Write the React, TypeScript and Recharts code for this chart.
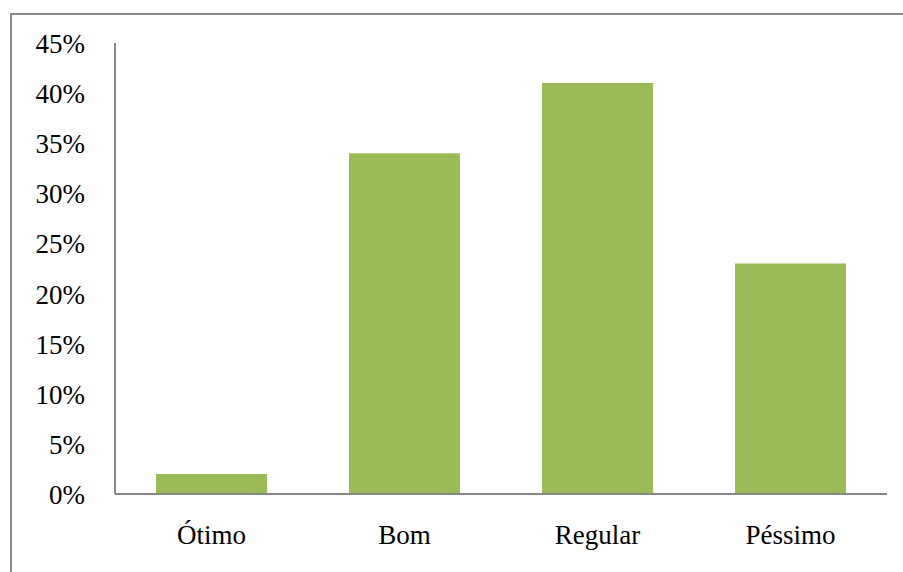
import { Bar, BarChart, XAxis, YAxis } from "recharts";

const categories = ["Ótimo", "Bom", "Regular", "Péssimo"];
const percentages = [2, 34, 41, 23];
const yTicks = [0, 5, 10, 15, 20, 25, 30, 35, 40, 45];

const data = categories.map((name, i) => ({ name, value: percentages[i] }));

const axisColor = "#878787";
const barColor = "#9BBB59";
const font = "Liberation Serif, serif";

const XTick = ({ x, y, payload }: any) => (
  <text
    x={x}
    y={y + 48}
    textAnchor="middle"
    style={{ fontFamily: font, fontSize: 27, fill: "#000" }}
  >
    {payload.value}
  </text>
);

const YTick = ({ x, y, payload }: any) => (
  <text
    x={x - 28}
    y={y + 10}
    textAnchor="end"
    style={{ fontFamily: font, fontSize: 27, fill: "#000" }}
  >
    {payload.value}%
  </text>
);

const App = () => {
  return (
    <div
      style={{
        position: "fixed",
        left: 0,
        top: 0,
        width: 903,
        height: 572,
        background: "#fff",
        overflow: "hidden",
        fontFamily: font,
      }}
    >
      {/* outer frame, runs off the right and bottom edges */}
      <div
        style={{
          position: "absolute",
          left: 10,
          top: 13,
          width: 920,
          height: 600,
          border: "2px solid #8a8a8a",
        }}
      />
      <div style={{ position: "absolute", left: 0, top: 0 }}>
        <BarChart
          width={903}
          height={572}
          data={data}
          margin={{ top: 43, right: 16, bottom: 48, left: 15 }}
          barCategoryGap={41}
        >
          <XAxis
            dataKey="name"
            axisLine={{ stroke: axisColor, strokeWidth: 2 }}
            tickLine={false}
            tickSize={0}
            tick={<XTick />}
          />
          <YAxis
            width={100}
            domain={[0, 45]}
            ticks={yTicks}
            interval={0}
            axisLine={{ stroke: axisColor, strokeWidth: 2 }}
            tickLine={false}
            tickSize={0}
            tick={<YTick />}
          />
          <Bar dataKey="value" fill={barColor} isAnimationActive={false} />
        </BarChart>
      </div>
    </div>
  );
};

export default App;
